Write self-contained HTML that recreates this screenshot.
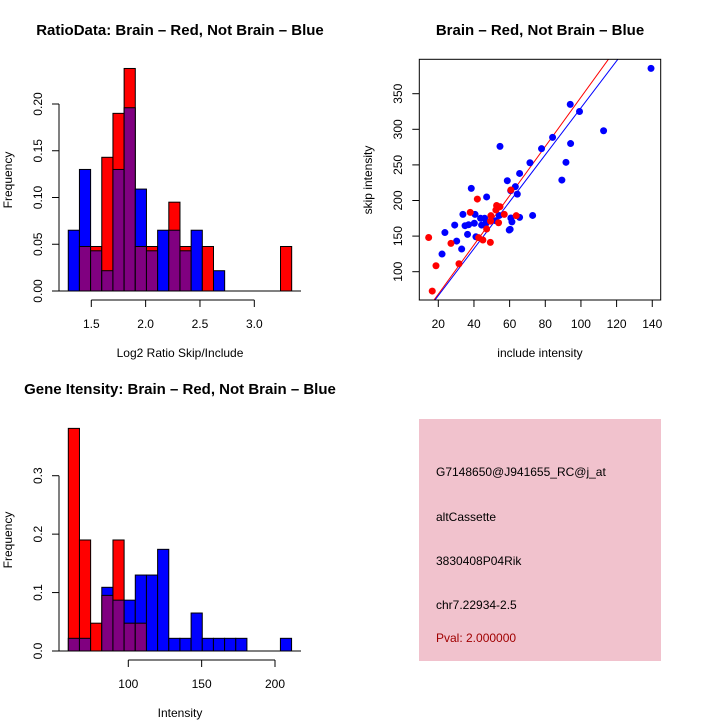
<!DOCTYPE html>
<html><head><meta charset="utf-8"><style>
body{margin:0;background:#fff;}
svg{display:block;font-family:"Liberation Sans",sans-serif;}
</style></head><body>
<svg id="c" width="720" height="720" viewBox="0 0 720 720">
<rect width="720" height="720" fill="#fff"/>
<text x="180" y="35" font-size="15" font-weight="bold" text-anchor="middle">RatioData: Brain – Red, Not Brain – Blue</text>
<text x="540" y="35" font-size="15" font-weight="bold" text-anchor="middle">Brain – Red, Not Brain – Blue</text>
<text x="180" y="394" font-size="15" font-weight="bold" text-anchor="middle">Gene Itensity: Brain – Red, Not Brain – Blue</text>
<text x="180" y="357" font-size="12" text-anchor="middle">Log2 Ratio Skip/Include</text>
<text x="12" y="180" font-size="12" text-anchor="middle" transform="rotate(-90 12 180)">Frequency</text>
<text x="540" y="357" font-size="12" text-anchor="middle">include intensity</text>
<text x="372" y="180" font-size="12" text-anchor="middle" transform="rotate(-90 372 180)">skip intensity</text>
<text x="180" y="717" font-size="12" text-anchor="middle">Intensity</text>
<text x="12" y="540" font-size="12" text-anchor="middle" transform="rotate(-90 12 540)">Frequency</text>
<g id="g1"></g><g id="g2"></g><g id="g3"></g>
<rect x="419" y="419" width="242" height="242" fill="#f1c2cd"/>
<g font-size="12">
<text x="436" y="476">G7148650@J941655_RC@j_at</text>
<text x="436" y="521">altCassette</text>
<text x="436" y="565">3830408P04Rik</text>
<text x="436" y="609">chr7.22934-2.5</text>
<text x="436" y="642" fill="#a00000">Pval: 2.000000</text>
</g>
</svg>
<script>
const ratioBlue=[0.065,0.130,0.043,0.0217,0.130,0.196,0.109,0.043,0.065,0.065,0.043,0.065,0,0.0217,0,0,0,0,0,0];
const ratioRed=[0,0.0476,0.0476,0.143,0.190,0.238,0.0476,0.0476,0,0.095,0.0476,0,0.0476,0,0,0,0,0,0,0.0476];
const ratioStart=1.288, ratioWidth=0.1028;
const ratioYTicks=[0,0.05,0.10,0.15,0.20];
const ratioYLabels=["0.00","0.05","0.10","0.15","0.20"];
const ratioXTicks=[1.5,2.0,2.5,3.0];
const ratioXLabels=["1.5","2.0","2.5","3.0"];
const intBlue=[0.0217,0.0217,0,0.109,0.087,0.087,0.130,0.130,0.174,0.0217,0.0217,0.065,0.0217,0.0217,0.0217,0.0217,0,0,0,0.0217];
const intRed=[0.381,0.190,0.0476,0.0952,0.190,0.0476,0.0476,0,0,0,0,0,0,0,0,0,0,0,0,0];
const intStart=59.1, intWidth=7.61;
const intYTicks=[0,0.1,0.2,0.3];
const intYLabels=["0.0","0.1","0.2","0.3"];
const intXTicks=[100,150,200];
const intXLabels=["100","150","200"];
const blueX=[139.3,94,99.2,112.7,84.1,94.2,77.9,54.6,71.4,91.6,89.3,58.7,65.6,63.2,64.3,60.6,38.5,47.1,72.9,65.6,60.7,61.3,60.3,59.8,33.8,40.6,43.7,46,44.3,46.7,40.2,35,37,29.2,23.7,36.4,41.1,30.3,22.1,33.1,52.3,54.2];
const blueY=[385.6,335,325,298,288.7,280,272.8,276,253,253.6,228.7,227.8,238,219.4,209,213.8,217,205,179,176.3,175.4,170,159.5,158.5,180.5,180.5,175,175,165.5,168,168,164.6,166,165.5,155,152.4,149,143,124.8,131.8,171.6,179];
const redX=[14.6,16.6,18.7,27.1,31.6,37.9,41.9,42.6,45,49.2,47.1,49.5,49.3,52.7,54.6,53.8,57,60.7,63.7,52.3];
const redY=[148,72.8,108.4,139.8,111.2,183.3,202,147.8,144.5,141.2,160,178.7,171,193,191.3,168.8,180.5,214.7,178.7,186.6];
const redLine=[3.457,-0.65], blueLine=[3.296,0.5];
const scXTicks=[20,40,60,80,100,120,140];
const scYTicks=[100,150,200,250,300,350];

const NS="http://www.w3.org/2000/svg";
function mk(p,t,a){const e=document.createElementNS(NS,t);for(const k in a)e.setAttribute(k,a[k]);p.appendChild(e);return e;}

function hist(g,blue,red,start,w,sx,sy,y0,axisY,xTicks,xLabels,yTicks,yLabels,pfx){
  for(let i=0;i<blue.length;i++){
    const x1=sx(start+i*w),x2=sx(start+(i+1)*w);
    const b=blue[i],r=red[i],mx=Math.max(b,r),mn=Math.min(b,r);
    if(mx>0){
      const e=mk(g,'rect',{x:x1,y:sy(mx),width:x2-x1,height:y0-sy(mx),fill:b>=r?'#0000ff':'#ff0000',stroke:'#000','stroke-width':1});
      
      
    }
    if(mn>0){
      const e=mk(g,'rect',{x:x1,y:sy(mn),width:x2-x1,height:y0-sy(mn),fill:'#800080',stroke:'#000','stroke-width':1});
      
      
    }
  }
  const base=mk(g,'line',{x1:59,x2:301,y1:y0,y2:y0,stroke:'#000'});
  
  
  const ya=mk(g,'line',{x1:59,x2:59,y1:y0,y2:sy(yTicks[yTicks.length-1]),stroke:'#000'});
  
  
  yTicks.forEach((v,i)=>{const y=sy(v);mk(g,'line',{x1:52,x2:59,y1:y,y2:y,stroke:'#000'});
    const t=mk(g,'text',{x:42,y:y,'font-size':12,'text-anchor':'middle',transform:`rotate(-90 42 ${y})`});t.textContent=yLabels[i];
    
    });
  const xa=mk(g,'line',{x1:sx(xTicks[0]),x2:sx(xTicks[xTicks.length-1]),y1:axisY,y2:axisY,stroke:'#000'});
  
  
  xTicks.forEach((v,i)=>{const x=sx(v);mk(g,'line',{x1:x,x2:x,y1:axisY,y2:axisY+7,stroke:'#000'});
    const t=mk(g,'text',{x:x,y:axisY+28,'font-size':12,'text-anchor':'middle'});t.textContent=xLabels[i];
    
    });
}
hist(document.getElementById('g1'),ratioBlue,ratioRed,ratioStart,ratioWidth,
  v=>91.3+(v-1.5)*108.67, f=>291-f*935, 291, 300, ratioXTicks,ratioXLabels,ratioYTicks,ratioYLabels,'ratio');
hist(document.getElementById('g3'),intBlue,intRed,intStart,intWidth,
  v=>128.3+(v-100)*1.467, f=>651-f*584.3, 651, 660, intXTicks,intXLabels,intYTicks,intYLabels,'intensity');
(function(){
  const g=document.getElementById('g2');
  const L=419.3,R=660.7,T=59.3,B=300;
  const sx=v=>438.3+(v-20)*1.783, sy=v=>271.7-(v-100)*0.712;
  const ix=x=>20+(x-438.3)/1.783;
  const cp=mk(g,'clipPath',{id:'cl'});mk(cp,'rect',{x:L,y:T,width:R-L,height:B-T});
  [[redLine,'#ff0000','red-fit-line'],[blueLine,'#0000ff','blue-fit-line']].forEach(([ln,c,n])=>{
    const x0=ix(L),x1=ix(R);
    const e=mk(g,'line',{x1:sx(x0),y1:sy(ln[0]*x0+ln[1]),x2:sx(x1),y2:sy(ln[0]*x1+ln[1]),stroke:c,'stroke-width':1,'clip-path':'url(#cl)'});
    
    
  });
  blueX.forEach((x,i)=>{const e=mk(g,'circle',{cx:sx(x),cy:sy(blueY[i]),r:3.5,fill:'#0000ff'});
    
    });
  redX.forEach((x,i)=>{const e=mk(g,'circle',{cx:sx(x),cy:sy(redY[i]),r:3.5,fill:'#ff0000'});
    
    });
  const box=mk(g,'rect',{x:L,y:T,width:R-L,height:B-T,fill:'none',stroke:'#000'});
  
  
  scXTicks.forEach(v=>{const x=sx(v);mk(g,'line',{x1:x,x2:x,y1:B,y2:B+7,stroke:'#000'});
    const t=mk(g,'text',{x:x,y:328,'font-size':12,'text-anchor':'middle'});t.textContent=v;
    
    });
  scYTicks.forEach(v=>{const y=sy(v);mk(g,'line',{x1:L-7,x2:L,y1:y,y2:y,stroke:'#000'});
    const t=mk(g,'text',{x:402,y:y,'font-size':12,'text-anchor':'middle',transform:`rotate(-90 402 ${y})`});t.textContent=v;
    
    });
})();
</script>
</body></html>
